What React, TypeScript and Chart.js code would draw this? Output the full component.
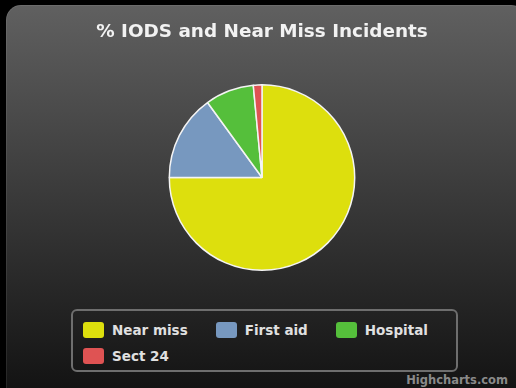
import React, { useEffect, useRef } from "react";
import { Chart, registerables } from "chart.js";

Chart.register(...registerables);

const titleText = "% IODS and Near Miss Incidents";
const categories = ["Near miss", "First aid", "Hospital", "Sect 24"];
const values = [75, 15, 8.5, 1.5];
const colors = ["#DDDF0D", "#7798BF", "#55BF3B", "#DF5353"];
const creditText = "Highcharts.com";

const FONT = "'DejaVu Sans', 'Lucida Grande', sans-serif";

export default function App() {
  const ref = useRef<HTMLCanvasElement | null>(null);

  useEffect(() => {
    if (!ref.current) return;
    const chart = new Chart(ref.current, {
      type: "pie",
      data: {
        labels: categories,
        datasets: [
          {
            data: values,
            backgroundColor: colors,
            borderColor: "#f4f4f4",
            borderWidth: 1.5,
          },
        ],
      },
      options: {
        responsive: false,
        animation: false,
        layout: { padding: { left: 8, right: 0, top: 0, bottom: 0 } },
        plugins: {
          legend: { display: false },
          tooltip: { enabled: false },
          title: {
            display: true,
            text: titleText,
            color: "#f2f2f2",
            font: { family: FONT, size: 18.4, weight: "bold" },
            padding: { top: 21, bottom: 41 },
          },
        },
      },
    });
    return () => chart.destroy();
  }, []);

  return (
    <div
      style={{
        position: "fixed",
        left: 0,
        top: 0,
        width: 516,
        height: 388,
        background: "#000",
        overflow: "hidden",
        fontFamily: FONT,
      }}
    >
      <div
        style={{
          position: "absolute",
          left: 6,
          top: 5,
          width: 520,
          height: 400,
          borderRadius: 15,
          background: "linear-gradient(to bottom, rgb(96,96,96), rgb(16,16,16))",
          boxShadow: "inset 0 0 0 1px rgba(255,255,255,0.08)",
        }}
      />
      <canvas
        ref={ref}
        width={516}
        height={271}
        style={{ position: "absolute", left: 0, top: 0, width: 516, height: 271 }}
      />
      <div
        style={{
          position: "absolute",
          left: 71,
          top: 309,
          width: 387,
          height: 63,
          boxSizing: "border-box",
          border: "2px solid #6e6e6e",
          borderRadius: 6,
          padding: "6px 4px 0 10px",
          display: "flex",
          flexWrap: "wrap",
          columnGap: 28,
          alignContent: "flex-start",
        }}
      >
        {categories.map((c, i) => (
          <div
            key={c}
            style={{ display: "flex", alignItems: "center", height: 26 }}
          >
            <div
              style={{
                width: 21,
                height: 16,
                borderRadius: 3,
                background: colors[i],
                marginRight: 8,
              }}
            />
            <span
              style={{
                color: "#e0e0e0",
                fontSize: 13.5,
                fontWeight: "bold",
                whiteSpace: "nowrap",
              }}
            >
              {c}
            </span>
          </div>
        ))}
      </div>
      <div
        style={{
          position: "absolute",
          right: 8,
          top: 373,
          color: "#8a8a8a",
          fontSize: 11.5,
          fontWeight: "bold",
        }}
      >
        {creditText}
      </div>
    </div>
  );
}
